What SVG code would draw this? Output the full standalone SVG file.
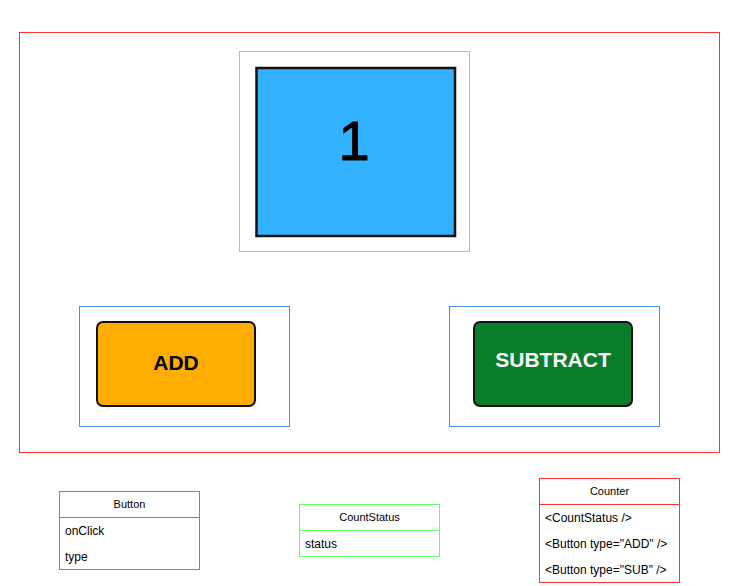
<svg xmlns="http://www.w3.org/2000/svg" width="739" height="586" viewBox="0 0 739 586">
<style>
text{font-family:"Liberation Sans",Arial,sans-serif;fill:#000}
.frame{fill:none;stroke-width:1}
.red{stroke:#ff3333}
.blue{stroke:#4a90e2}
.green{stroke:#77e877}
.lime{stroke:#66ff66}
.btn{stroke:#111;stroke-width:2}
.title{font-size:11px;text-anchor:middle}
.row{font-size:12px}
.big{font-weight:bold;font-size:21px;text-anchor:middle}
</style>
<rect width="739" height="586" fill="#fff"/>
<g id="counter-frame"><rect class="frame red" x="19.5" y="32.5" width="700" height="420"/></g>
<g id="count-status">
<rect class="frame green" x="239.5" y="51.5" width="230" height="200"/>
<rect x="256.5" y="68" width="198.5" height="168" fill="#33b3ff" stroke="#111" stroke-width="2.5"/>
<text x="354" y="160" font-size="56" text-anchor="middle" stroke="#000" stroke-width="1">1</text>
</g>
<g id="add-button">
<rect class="frame blue" x="79.5" y="306.5" width="210" height="120"/>
<rect class="btn" x="97" y="322" width="158" height="84" rx="6" fill="#ffad00"/>
<text class="big" x="176" y="370">ADD</text>
</g>
<g id="subtract-button">
<rect class="frame blue" x="449.5" y="306.5" width="210" height="120"/>
<rect class="btn" x="474" y="322" width="158" height="84" rx="6" fill="#0a7d2a"/>
<text class="big" x="553" y="367" style="fill:#fff">SUBTRACT</text>
</g>
<g id="button-class">
<rect class="frame blue" x="59.5" y="491.5" width="140" height="78" fill="#fff"/>
<line class="blue" x1="59.5" y1="517.5" x2="199.5" y2="517.5"/>
<text class="title" x="129.5" y="508">Button</text>
<text class="row" x="65" y="535">onClick</text>
<text class="row" x="65" y="561">type</text>
</g>
<g id="countstatus-class">
<rect class="frame lime" x="299.5" y="504.5" width="140" height="52" fill="#fff"/>
<line class="lime" x1="299.5" y1="530.5" x2="439.5" y2="530.5"/>
<text class="title" x="369.5" y="521">CountStatus</text>
<text class="row" x="305" y="548">status</text>
</g>
<g id="counter-class">
<rect class="frame red" x="539.5" y="478.5" width="140" height="104" fill="#fff"/>
<line class="red" x1="539.5" y1="504.5" x2="679.5" y2="504.5"/>
<text class="title" x="609.5" y="495">Counter</text>
<text class="row" x="545" y="522">&lt;CountStatus /&gt;</text>
<text class="row" x="545" y="548">&lt;Button type="ADD" /&gt;</text>
<text class="row" x="545" y="574">&lt;Button type="SUB" /&gt;</text>
</g>
<g id="connectors"/>
</svg>
